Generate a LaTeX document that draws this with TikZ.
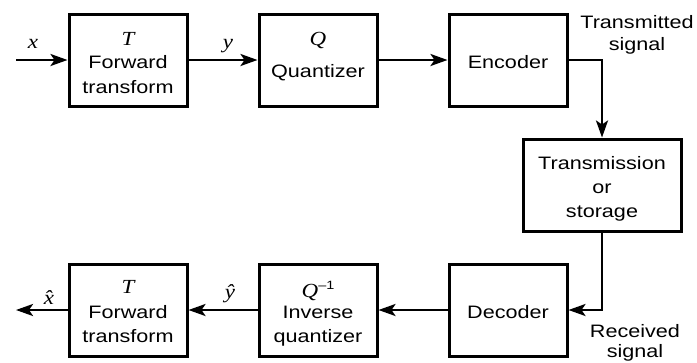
\documentclass[tikz,border=0pt]{standalone}
\usepackage{fontspec}
\setmainfont{Liberation Sans}[FakeStretch=1.2]
\newfontfamily\tmsit{Liberation Serif}[FakeStretch=1.15,UprightFont=* Italic]
\usetikzlibrary{arrows.meta}
\newcommand{\wm}[1]{{\tmsit\fontsize{20}{22}\selectfont #1}}
\begin{document}
\begin{tikzpicture}[x=1pt,y=-1pt,
  blk/.style={draw,line width=3pt,minimum width=118pt,minimum height=92pt,inner sep=0pt},
  txt/.style={anchor=base,inner sep=0pt,font=\fontsize{18}{22}\selectfont},
  conn/.style={line width=2.5pt,-{Stealth[length=17pt,width=12pt,inset=4pt]}}]
\useasboundingbox (0,0) rectangle (697,362);
% blocks
\node[blk] (b1) at (128,60) {};
\node[blk] (b2) at (318,60) {};
\node[blk] (b3) at (508,60) {};
\node[blk,minimum width=158pt] (b4) at (602,185) {};
\node[blk] (b5) at (508,310) {};
\node[blk] (b6) at (318,310) {};
\node[blk] (b7) at (128,310) {};
% texts
\node[txt] (t1a) at (128,45) {\wm{T}};
\node[txt] (t1b) at (128,68) {Forward};
\node[txt] (t1c) at (128,93) {transform};
\node[txt] (t2a) at (318,45) {\wm{Q}};
\node[txt] (t2b) at (318,77) {Quantizer};
\node[txt] (t3) at (508,68) {Encoder};
\node[txt] (t4a) at (602,169) {Transmission};
\node[txt] (t4b) at (602,193) {or};
\node[txt] (t4c) at (602,217) {storage};
\node[txt] (t5) at (508,318) {Decoder};
\node[txt] (t6a) at (318,297) {\wm{Q}\raisebox{8pt}{\fontsize{12}{12}\selectfont –1}};
\node[txt] (t6b) at (318,318) {Inverse};
\node[txt] (t6c) at (318,342) {quantizer};
\node[txt] (t7a) at (128,293) {\wm{T}};
\node[txt] (t7b) at (128,318) {Forward};
\node[txt] (t7c) at (128,342) {transform};
\node[txt] (lt1) at (637,28) {Transmitted};
\node[txt] (lt2) at (637,50) {signal};
\node[txt] (lr1) at (635,337) {Received};
\node[txt] (lr2) at (635,357) {signal};
\node[txt] (lx) at (33,48) {\wm{x}};
\node[txt] (ly) at (228,48) {\wm{y}};
\node[txt] (lxh) at (49,304) {\wm{x̂}};
\node[txt] (lyh) at (230,298) {\wm{ŷ}};
% connectors
\coordinate (in) at (16,60);
\coordinate (out) at (16,310);
\coordinate (c1) at (602,60);
\coordinate (c2) at (602,310);
\draw[conn] (in) -- (b1.west);
\draw[conn] (b1.east) -- (b2.west);
\draw[conn] (b2.east) -- (b3.west);
\draw[conn] (b3.east) -- (c1) -- (b4.north);
\draw[conn] (b4.south) -- (c2) -- (b5.east);
\draw[conn] (b5.west) -- (b6.east);
\draw[conn] (b6.west) -- (b7.east);
\draw[conn] (b7.west) -- (out);
\end{tikzpicture}
\end{document}
